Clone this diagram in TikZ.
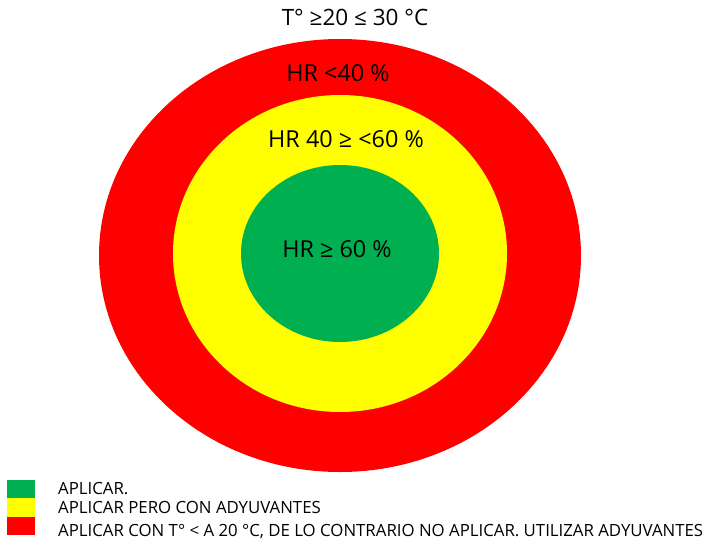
\documentclass[tikz,border=0pt]{standalone}
\usepackage{fontspec}
\setmainfont{Open Sans}
\definecolor{rred}{HTML}{FF0000}
\definecolor{ryellow}{HTML}{FFFF00}
\definecolor{rgreen}{HTML}{00B050}
\begin{document}
\begin{tikzpicture}[x=1pt,y=-1pt,
  lbl/.style={inner sep=0pt,text=black,font=\fontsize{23.4}{23.4}\selectfont},
  sw/.style={minimum width=28pt,minimum height=18pt,inner sep=0pt,draw=none},
  legtxt/.style={anchor=west,inner sep=0pt,font=\fontsize{16.8}{16.8}\selectfont}]
\useasboundingbox (0,0) rectangle (710,544);
\fill[rred] (340,255.5) ellipse [x radius=241, y radius=216.5];
\fill[ryellow] (340,253.5) ellipse [x radius=167, y radius=158.5];
\fill[rgreen] (340,253.5) ellipse [x radius=99, y radius=88.5];
\node[lbl,font=\fontsize{22.5}{22.5}\selectfont] (title) at (355,17) {T° ≥20 ≤ 30 °C};
\node[lbl] (hr1) at (338,73) {HR <40 \%};
\node[lbl] (hr2) at (346,139) {HR 40 ≥ <60 \%};
\node[lbl] (hr3) at (337,249) {HR ≥ 60 \%};
\node[sw,fill=rgreen,anchor=north west] (sg) at (7,480) {};
\node[sw,fill=ryellow,anchor=north west,minimum height=19pt] (sy) at (7,498) {};
\node[sw,fill=rred,anchor=north west] (sr) at (7,517) {};
\node[legtxt] (t1) at (58,489) {APLICAR.};
\node[legtxt] (t2) at (58,507) {APLICAR PERO CON ADYUVANTES};
\node[legtxt] (t3) at (58,531) {APLICAR CON T° < A 20 °C, DE LO CONTRARIO NO APLICAR. UTILIZAR ADYUVANTES};
\end{tikzpicture}
\end{document}
